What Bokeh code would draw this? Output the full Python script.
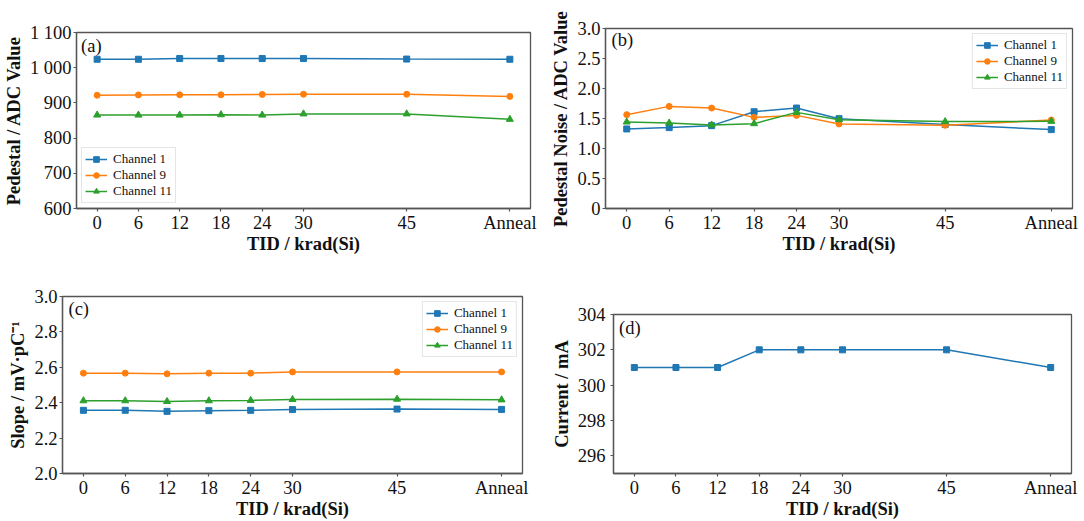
from bokeh.plotting import figure
from bokeh.layouts import column, row
from bokeh.models import FixedTicker, Label, Range1d
from bokeh.embed import file_html
from bokeh.resources import INLINE

# ---------------- data ----------------
tid = [0, 6, 12, 18, 24, 30, 45, 60]          # 60 -> "Anneal"
tid_labels = ["0", "6", "12", "18", "24", "30", "45", "Anneal"]

# (a) Pedestal / ADC value
ped_ch1 = [1024, 1024, 1026, 1026, 1026, 1026, 1024.5, 1024]
ped_ch9 = [921.8, 922.7, 923, 923, 924, 924.6, 924.6, 918.5]
ped_ch11 = [865.5, 865.5, 865.5, 866.4, 865.5, 868.8, 868.8, 853.3]
ped_yticks = [600, 700, 800, 900, 1000, 1100]
ped_ylabels = ["600", "700", "800", "900", "1 000", "1 100"]

# (b) Pedestal noise / ADC value
noise_ch1 = [1.326, 1.348, 1.381, 1.613, 1.674, 1.497, 1.40, 1.315]
noise_ch9 = [1.564, 1.702, 1.674, 1.519, 1.552, 1.409, 1.387, 1.475]
noise_ch11 = [1.442, 1.425, 1.392, 1.414, 1.602, 1.481, 1.448, 1.453]
noise_yticks = [0, 0.5, 1, 1.5, 2, 2.5, 3]
noise_ylabels = ["0", "0.5", "1.0", "1.5", "2.0", "2.5", "3.0"]

# (c) Slope / mV·pC^-1
slope_ch1 = [2.357, 2.357, 2.351, 2.355, 2.357, 2.361, 2.364, 2.362]
slope_ch9 = [2.567, 2.567, 2.563, 2.567, 2.567, 2.574, 2.574, 2.574]
slope_ch11 = [2.411, 2.411, 2.407, 2.411, 2.413, 2.418, 2.420, 2.416]
slope_yticks = [2, 2.2, 2.4, 2.6, 2.8, 3]
slope_ylabels = ["2.0", "2.2", "2.4", "2.6", "2.8", "3.0"]

# (d) Current / mA
current = [301, 301, 301, 302, 302, 302, 302, 301]
cur_yticks = [296, 298, 300, 302, 304]
cur_ylabels = ["296", "298", "300", "302", "304"]

# ---------------- style ----------------
FONT = "Liberation Serif"
FS = "18.5px"
C1, C9, C11 = "#1f77b4", "#ff7f0e", "#2ca02c"
SPINE = "#555555"
TXT = "#111111"


def make_fig(w, h, bl, br, bt, bb, yr, yticks, ylabels, ylabel, ystd=2):
    p = figure(width=w, height=h, x_range=Range1d(-3, 63), y_range=Range1d(*yr),
               output_backend="svg", toolbar_location=None,
               min_border_left=bl, min_border_right=br,
               min_border_top=bt, min_border_bottom=bb)
    p.grid.visible = False
    p.background_fill_color = "white"
    p.border_fill_color = "white"
    p.outline_line_color = SPINE
    p.outline_line_width = 1.3
    for ax in (p.xaxis[0], p.yaxis[0]):
        ax.axis_line_color = SPINE
        ax.axis_line_width = 1.3
        ax.major_tick_line_color = SPINE
        ax.major_tick_line_width = 1.2
        ax.major_tick_in = 0
        ax.major_tick_out = 3
        ax.minor_tick_line_color = None
        ax.major_label_text_font = FONT
        ax.major_label_text_font_size = FS
        ax.major_label_text_color = TXT
        ax.axis_label_text_font = FONT
        ax.axis_label_text_font_size = FS
        ax.axis_label_text_font_style = "bold"
        ax.axis_label_text_color = TXT
    p.xaxis.ticker = FixedTicker(ticks=tid)
    p.xaxis.major_label_overrides = {t: s for t, s in zip(tid, tid_labels)}
    p.xaxis.axis_label = "TID / krad(Si)"
    p.xaxis.major_label_standoff = 1
    p.xaxis.axis_label_standoff = -2
    p.yaxis.ticker = FixedTicker(ticks=yticks)
    p.yaxis.major_label_overrides = {t: s for t, s in zip(yticks, ylabels)}
    p.yaxis.axis_label = ylabel
    p.yaxis.major_label_standoff = ystd
    p.yaxis.axis_label_standoff = 3
    return p


def add_series(p, y, color, marker, size, name=None):
    kw = {"legend_label": name} if name else {}
    p.line(tid, y, line_color=color, line_width=1.5, **kw)
    p.scatter(tid, y, marker=marker, size=size, fill_color=color, line_color=color, **kw)


def style_legend(p, loc):
    lg = p.legend[0]
    lg.location = loc
    lg.label_text_font = FONT
    lg.label_text_font_size = "13px"
    lg.label_text_color = TXT
    lg.border_line_color = "#cccccc"
    lg.border_line_width = 1
    lg.background_fill_alpha = 0.85
    lg.margin = 5
    lg.padding = 3
    lg.spacing = 0
    lg.label_height = 14
    lg.glyph_height = 14
    lg.glyph_width = 22
    lg.label_standoff = 6


def panel_label(p, text, fx, fy):
    xr, yr = p.x_range, p.y_range
    p.add_layout(Label(x=xr.start + fx * (xr.end - xr.start),
                       y=yr.start + fy * (yr.end - yr.start),
                       text=text, text_font=FONT, text_font_size=FS,
                       text_color=TXT, text_baseline="middle", text_align="left"))


# (a)
pa = make_fig(548, 256, 75, 18, 32, 47, (600, 1100), ped_yticks, ped_ylabels,
              "Pedestal / ADC Value")
add_series(pa, ped_ch1, C1, "square", 6, "Channel 1")
add_series(pa, ped_ch9, C9, "circle", 6, "Channel 9")
add_series(pa, ped_ch11, C11, "triangle", 7, "Channel 11")
style_legend(pa, "bottom_left")
panel_label(pa, "(a)", 0.01, 0.925)

# (b)
pb = make_fig(536, 256, 57, 12, 28, 47, (0, 3), noise_yticks, noise_ylabels,
              "Pedestal Noise / ADC Value")
add_series(pb, noise_ch1, C1, "square", 6, "Channel 1")
add_series(pb, noise_ch9, C9, "circle", 6, "Channel 9")
add_series(pb, noise_ch11, C11, "triangle", 7, "Channel 11")
style_legend(pb, "top_right")
panel_label(pb, "(b)", 0.013, 0.935)

# (c)
pc = make_fig(548, 265, 62, 26, 40, 47, (2, 3), slope_yticks, slope_ylabels,
              "Slope / mV\u00b7pC\u207b\u00b9")
add_series(pc, slope_ch1, C1, "square", 6, "Channel 1")
add_series(pc, slope_ch9, C9, "circle", 6, "Channel 9")
add_series(pc, slope_ch11, C11, "triangle", 7, "Channel 11")
style_legend(pc, "top_right")
panel_label(pc, "(c)", 0.013, 0.929)

# (d)
pd = make_fig(536, 265, 61, 13, 58, 47, (295, 304), cur_yticks, cur_ylabels,
              "Current / mA", ystd=5)
add_series(pd, current, C1, "square", 6)
panel_label(pd, "(d)", 0.012, 0.915)

layout = column(row(column(pa), column(pb)), row(column(pc), column(pd)))
open("out.html", "w").write(file_html(layout, INLINE))
